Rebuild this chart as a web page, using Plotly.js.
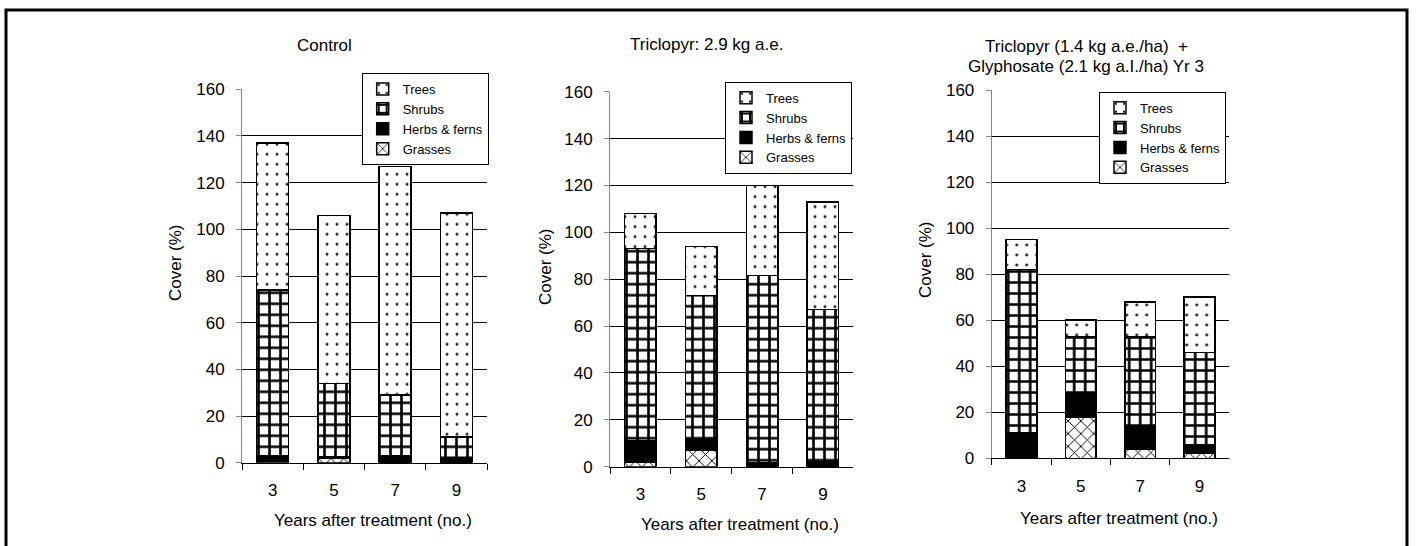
<!DOCTYPE html>
<html>
<head>
<meta charset="utf-8">
<script src="https://cdn.plot.ly/plotly-3.0.1.min.js"></script>
<style>html,body{margin:0;padding:0;background:#fff;}#chart{width:1416px;height:546px;}</style>
</head>
<body>
<div id="chart"></div>
<script>
// ---- data ----
const years = ["3", "5", "7", "9"];
const seriesNames = ["Grasses", "Herbs & ferns", "Shrubs", "Trees"];
const panelTitles = [["Control"], ["Triclopyr: 2.9 kg a.e."], ["Triclopyr (1.4 kg a.e./ha)  +", "Glyphosate (2.1 kg a.I./ha) Yr 3"]];
const yTickVals = [0, 20, 40, 60, 80, 100, 120, 140, 160];

const controlGrasses = [0.5, 2, 0, 0];
const controlHerbs   = [2.5, 0.5, 3, 2];
const controlShrubs  = [71, 31.5, 26, 9];
const controlTrees   = [63, 72, 98, 96];

const tricGrasses = [2, 7, 0, 0];
const tricHerbs   = [9, 5, 1.5, 2];
const tricShrubs  = [82, 61, 80, 65];
const tricTrees   = [15, 21, 38.5, 46];

const comboGrasses = [0, 18, 4, 2];
const comboHerbs   = [11, 10, 10, 4];
const comboShrubs  = [71, 25, 39, 40];
const comboTrees   = [13, 7, 15, 24];

const panelData = [
  [controlGrasses, controlHerbs, controlShrubs, controlTrees],
  [tricGrasses, tricHerbs, tricShrubs, tricTrees],
  [comboGrasses, comboHerbs, comboShrubs, comboTrees]
];

// ---- styles ----
const W = 1416, H = 546;
const px = v => v / W;
const py = v => 1 - v / H;
const FONT = "Liberation Sans, Arial, sans-serif";

const patterns = [
  {shape: "x", size: 9, solidity: 0.2, fgcolor: "#000", bgcolor: "#fff"},
  {shape: "", fgcolor: "#000", bgcolor: "#000"},
  {shape: "+", size: 11, solidity: 0.42, fgcolor: "#000", bgcolor: "#fff"},
  {shape: ".", size: 10, solidity: 0.07, fgcolor: "#222", bgcolor: "#fff"}
];
const fills = ["#fff", "#000", "#fff", "#fff"];

// panel geometry (pixels)
const panels = [
  {x0: 242, x1: 487, y0: 462.7, y1: 89.3, legX: 361.7, legY: 73, titleX: 324, titleY: [45], yTitleX: 175, yTitleY: 263, xTitleY: 520},
  {x0: 610, x1: 853.3, y0: 466.7, y1: 91.7, legX: 725, legY: 81.7, titleX: 706, titleY: [44], yTitleX: 545, yTitleY: 267, xTitleY: 524},
  {x0: 991.7, x1: 1229.3, y0: 458.3, y1: 90, legX: 1099, legY: 91.7, titleX: 1086, titleY: [46.7, 66.7], yTitleX: 925, yTitleY: 260, xTitleY: 518}
];

const traces = [];
const layout = {
  width: W, height: H,
  margin: {l: 0, r: 0, t: 0, b: 0},
  paper_bgcolor: "#fff", plot_bgcolor: "#fff",
  barmode: "stack", bargap: 0.48,
  font: {family: FONT, size: 17, color: "#000"},
  annotations: [],
  shapes: [{
    type: "rect", xref: "paper", yref: "paper",
    x0: px(6), x1: px(1407), y0: -0.05, y1: py(10),
    line: {color: "#000", width: 3}, fillcolor: "rgba(0,0,0,0)"
  }]
};

panels.forEach((p, i) => {
  const n = i + 1;
  const xa = "x" + (n === 1 ? "" : n), ya = "y" + (n === 1 ? "" : n);
  const legName = "legend" + (n === 1 ? "" : n);
  seriesNames.forEach((name, s) => {
    const pat = Object.assign({}, patterns[s]);
    const tr = {
      type: "bar", name: name, x: years, y: panelData[i][s],
      xaxis: xa, yaxis: ya, legend: legName,
      marker: {color: fills[s], line: {color: "#000", width: 1.5}},
      hoverinfo: "x+y+name"
    };
    if (pat.shape) tr.marker.pattern = pat;
    traces.push(tr);
  });
  layout["xaxis" + (n === 1 ? "" : n)] = {
    domain: [px(p.x0), px(p.x1)], anchor: ya, type: "category",
    showline: true, linecolor: "#000", linewidth: 1,
    ticks: "outside", tickson: "boundaries", ticklen: 6, tickcolor: "#000",
    ticklabelstandoff: 12,
    showgrid: false, zeroline: false, fixedrange: true,
    tickfont: {family: FONT, size: 17, color: "#000"}
  };
  layout["yaxis" + (n === 1 ? "" : n)] = {
    domain: [py(p.y0), py(p.y1)], anchor: xa, range: [0, 160],
    tickvals: yTickVals, showline: true, linecolor: "#888", linewidth: 1,
    ticks: "outside", ticklen: 5, tickcolor: "#888", ticklabelstandoff: 8,
    showgrid: true, gridcolor: "#000", gridwidth: 1, zeroline: false, fixedrange: true,
    tickfont: {family: FONT, size: 17, color: "#000"}
  };
  layout[legName] = {
    x: px(p.legX), y: py(p.legY), xanchor: "left", yanchor: "top",
    xref: "paper", yref: "paper",
    bgcolor: "#fff", bordercolor: "#000", borderwidth: 1,
    traceorder: "reversed", font: {family: FONT, size: 13, color: "#000"},
    itemclick: false, itemdoubleclick: false, tracegroupgap: 0
  };
  panelTitles[i].forEach((line, k) => {
    layout.annotations.push({
      text: line, xref: "paper", yref: "paper",
      x: px(p.titleX), y: py(p.titleY[k]), xanchor: "center", yanchor: "middle",
      showarrow: false, font: {family: FONT, size: 17, color: "#000"}
    });
  });
  layout.annotations.push({
    text: "Cover (%)", xref: "paper", yref: "paper", textangle: -90,
    x: px(p.yTitleX), y: py(p.yTitleY), xanchor: "center", yanchor: "middle",
    showarrow: false, font: {family: FONT, size: 17, color: "#000"}
  });
  layout.annotations.push({
    text: "Years after treatment (no.)", xref: "paper", yref: "paper",
    x: px((p.x0 + p.x1) / 2 + 8), y: py(p.xTitleY), xanchor: "center", yanchor: "middle",
    showarrow: false, font: {family: FONT, size: 17, color: "#000"}
  });
});

Plotly.newPlot("chart", traces, layout, {staticPlot: true, displayModeBar: false});
</script>
</body>
</html>
